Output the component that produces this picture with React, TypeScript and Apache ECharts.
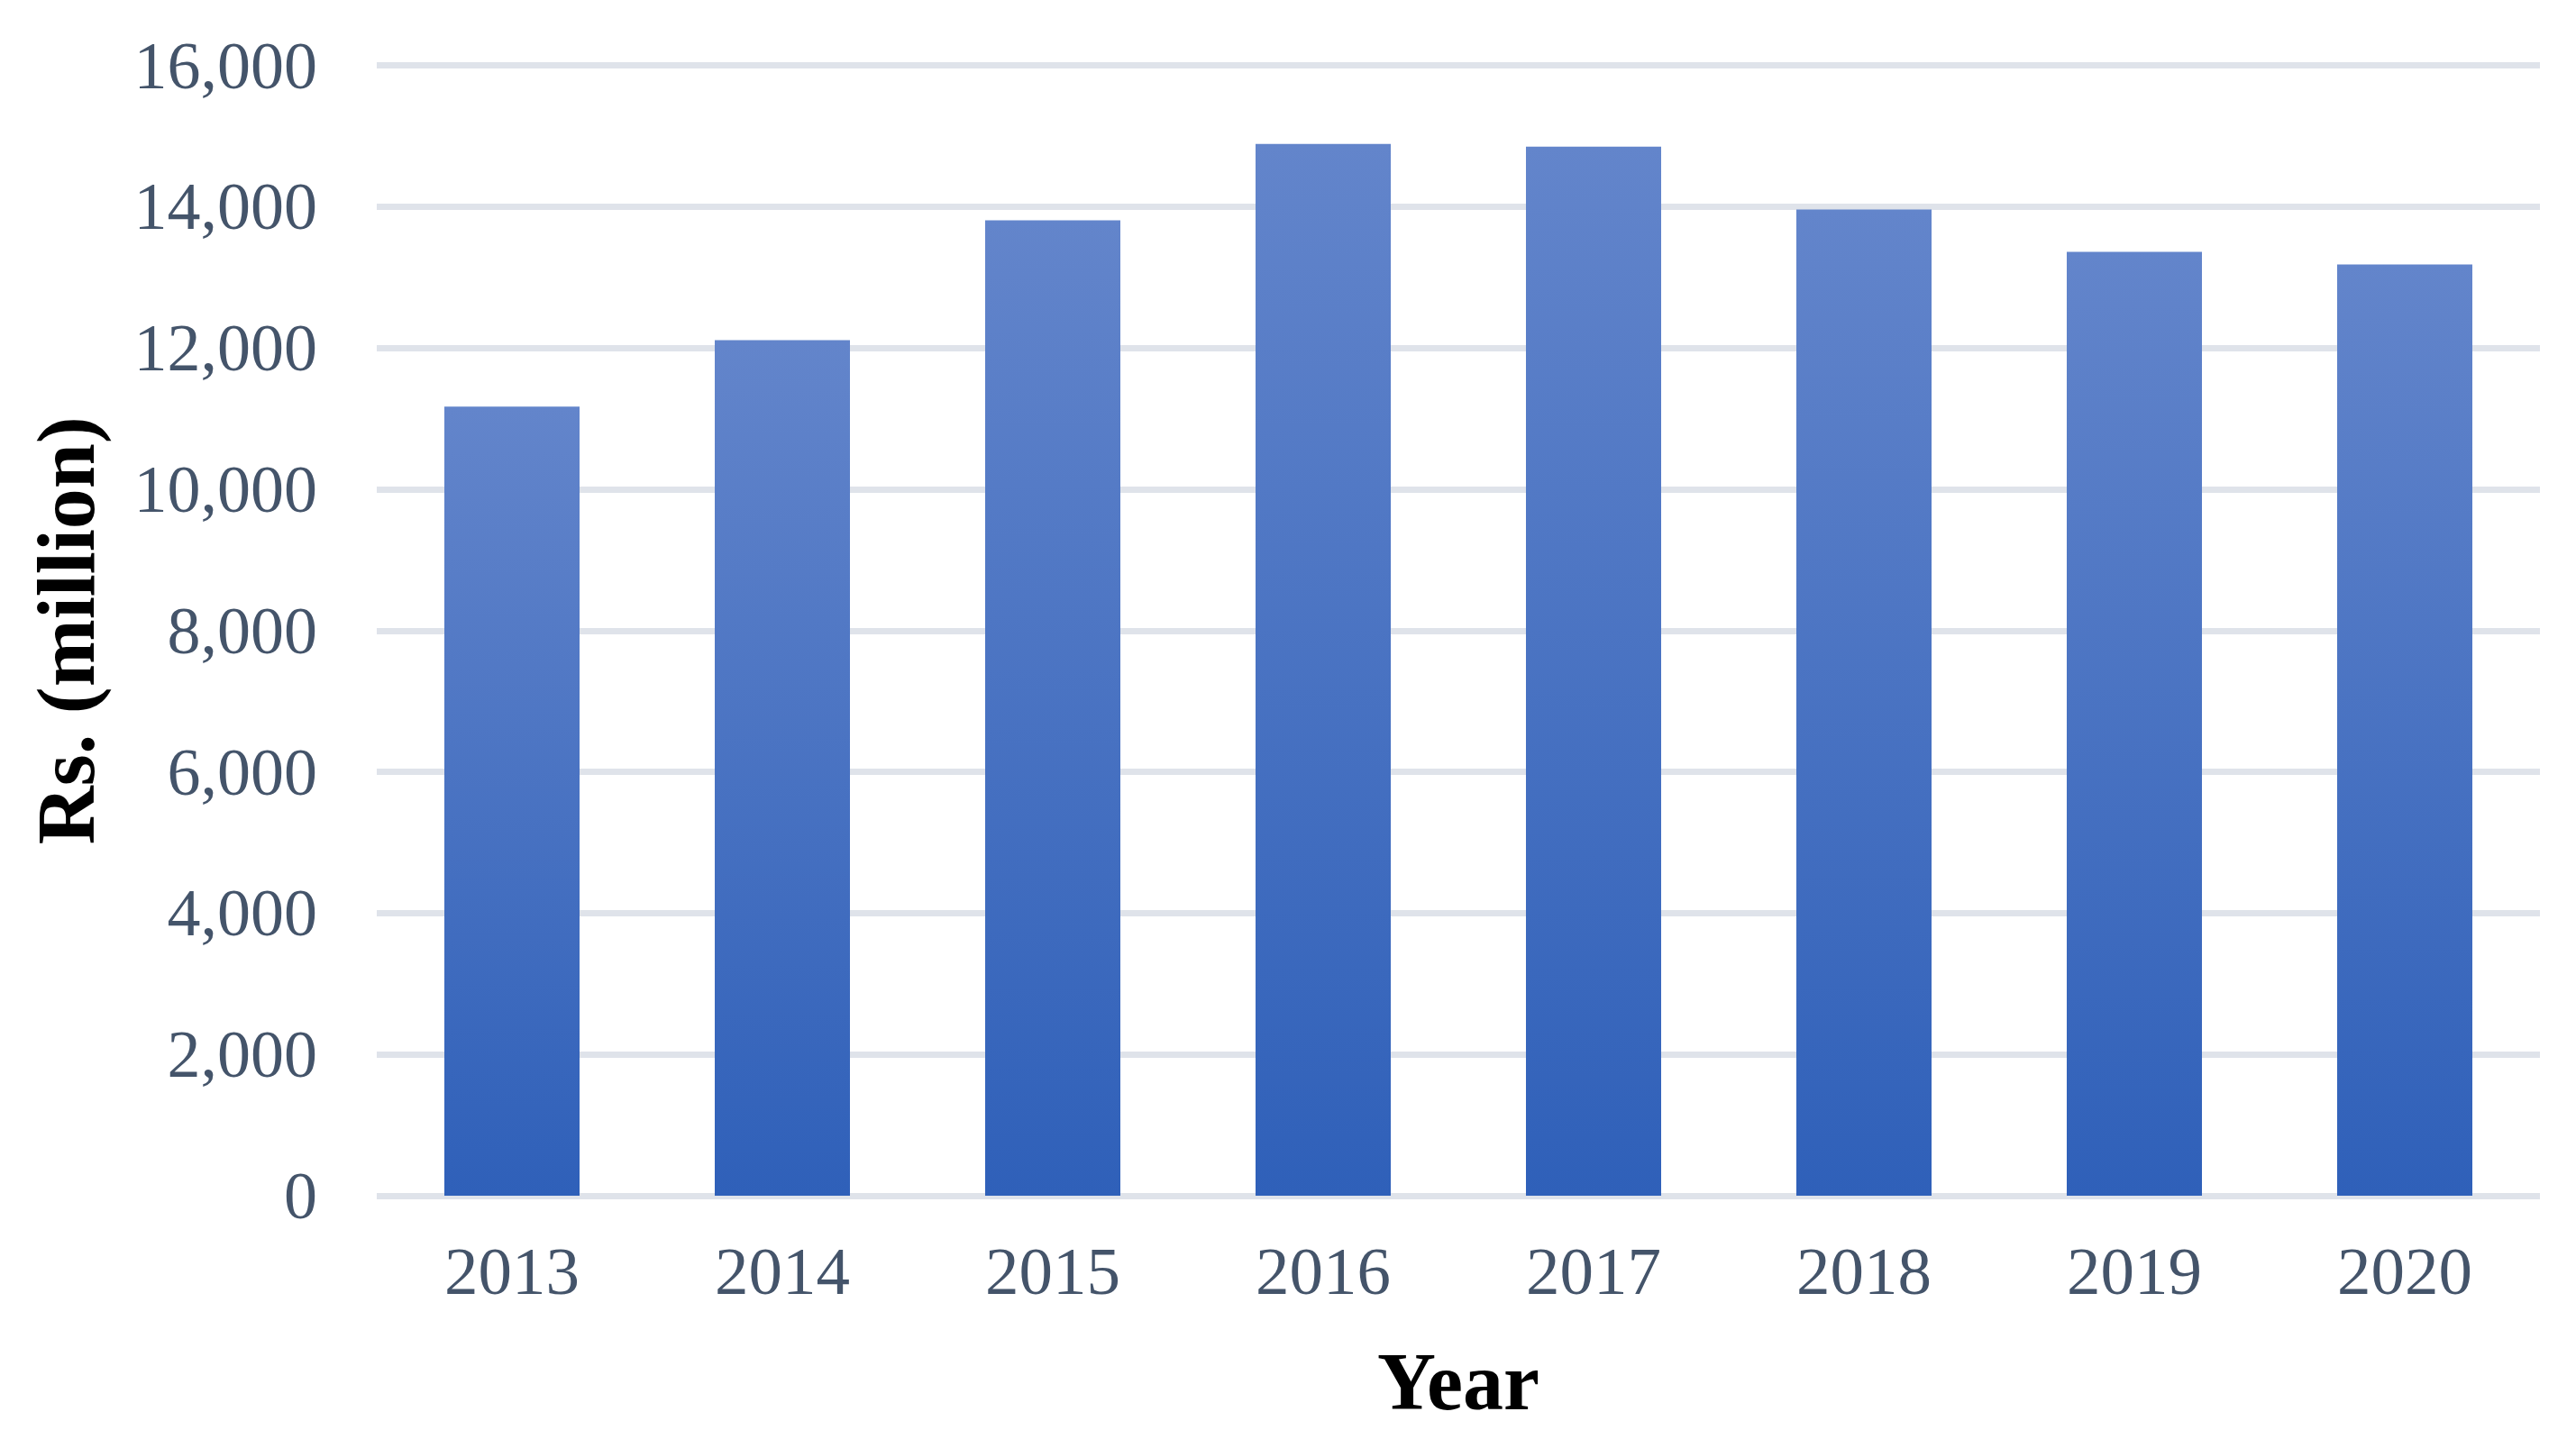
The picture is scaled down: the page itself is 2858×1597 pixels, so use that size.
import React, { useEffect, useRef } from "react";
import * as echarts from "echarts";

const years: string[] = ["2013", "2014", "2015", "2016", "2017", "2018", "2019", "2020"];
const values: number[] = [11170, 12110, 13805, 14888, 14850, 13958, 13359, 13180];
const yTicks = { min: 0, max: 16000, interval: 2000 };

const FONT = "'Times New Roman', 'Liberation Serif', serif";

export default function App() {
  const ref = useRef<HTMLDivElement>(null);
  useEffect(() => {
    if (!ref.current) return;
    const chart = echarts.init(ref.current, null, { renderer: "svg" });
    chart.setOption({
      animation: false,
      backgroundColor: "#ffffff",
      grid: { left: 418, right: 40, top: 72.5, bottom: 1597 - 1327, containLabel: false },
      xAxis: {
        type: "category",
        data: years,
        name: "Year",
        nameLocation: "middle",
        nameGap: 161,
        nameTextStyle: { fontFamily: FONT, fontSize: 90, fontWeight: "bold", color: "#000000" },
        axisLine: { show: false },
        axisTick: { show: false },
        axisLabel: { interval: 0, margin: 46, fontFamily: FONT, fontSize: 75, color: "#44546a" },
      },
      yAxis: {
        type: "value",
        min: yTicks.min,
        max: yTicks.max,
        interval: yTicks.interval,
        name: "Rs. (million)",
        nameLocation: "middle",
        nameGap: 300,
        nameTextStyle: { fontFamily: FONT, fontSize: 90, fontWeight: "bold", color: "#000000" },
        axisLine: { show: false },
        axisTick: { show: false },
        splitLine: { show: true, lineStyle: { color: "#dfe3ea", width: 7 } },
        axisLabel: {
          margin: 66,
          fontFamily: FONT,
          fontSize: 74,
          color: "#44546a",
          formatter: (v: number) => v.toLocaleString("en-US"),
        },
      },
      series: [
        {
          type: "bar",
          data: values,
          barWidth: "50%",
          itemStyle: {
            color: new echarts.graphic.LinearGradient(0, 0, 0, 1, [
              { offset: 0, color: "#6385cb" },
              { offset: 1, color: "#2f60b9" },
            ]),
          },
        },
      ],
    });
    return () => chart.dispose();
  }, []);
  return (
    <div
      ref={ref}
      style={{ position: "absolute", left: 0, top: 0, width: 2858, height: 1597, background: "#fff" }}
    />
  );
}
